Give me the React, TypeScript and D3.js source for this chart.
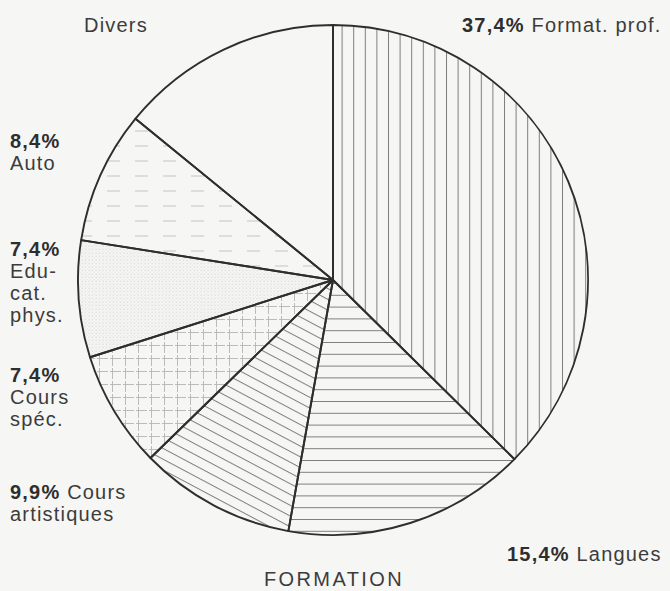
import React from "react";
import * as d3 from "d3";

const categories = ["Format. prof.", "Langues", "Cours artistiques", "Cours spéc.", "Educat. phys.", "Auto", "Divers"];
const values = [37.4, 15.4, 9.9, 7.4, 7.4, 8.4, 14.1];
const percentLabels = ["37,4%", "15,4%", "9,9%", "7,4%", "7,4%", "8,4%", ""];
const nameLines = [
  ["Format. prof."],
  ["Langues"],
  ["Cours", "artistiques"],
  ["Cours", "spéc."],
  ["Edu-", "cat.", "phys."],
  ["Auto"],
  ["Divers"],
];
const title = "FORMATION";

// layout (not data)
const W = 670, H = 591;
const cx = 333, cy = 280, R = 255;
const labelLayout = [
  { x: 462, y: 32, inline: true },
  { x: 507, y: 561, inline: true },
  { x: 10, y: 499, inline: true },
  { x: 10, y: 382, inline: false },
  { x: 10, y: 256, inline: false },
  { x: 10, y: 148, inline: false },
  { x: 84, y: 32, inline: true },
];
const fills = ["url(#pVert)", "url(#pHoriz)", "url(#pDiag)", "url(#pGrid)", "url(#pDots)", "url(#pDash)", "none"];

export default function App() {
  const pie = d3.pie<number>().sort(null).value((d) => d).startAngle(0).endAngle(2 * Math.PI);
  const arcs = pie(values);
  const arc = d3.arc<d3.PieArcDatum<number>>().innerRadius(0).outerRadius(R);
  const font = "'Liberation Sans', Arial, Helvetica, sans-serif";
  const fs = 20;
  const ls = 1.2;
  const lh = 22;
  return (
    <svg width={W} height={H} style={{ position: "absolute", left: 0, top: 0, background: "#f6f6f4" }}>
      <defs>
        <pattern id="pVert" patternUnits="userSpaceOnUse" width={11.6} height={20} x={-3}>
          <line x1={0.5} y1={0} x2={0.5} y2={20} stroke="#7e7e7e" strokeWidth={1} />
        </pattern>
        <pattern id="pHoriz" patternUnits="userSpaceOnUse" width={20} height={11.8} y={3}>
          <line x1={0} y1={0.5} x2={20} y2={0.5} stroke="#7e7e7e" strokeWidth={1} />
        </pattern>
        <pattern id="pDiag" patternUnits="userSpaceOnUse" width={20} height={9.5} patternTransform="rotate(28)">
          <line x1={0} y1={0.5} x2={20} y2={0.5} stroke="#7e7e7e" strokeWidth={1} />
        </pattern>
        <pattern id="pGrid" patternUnits="userSpaceOnUse" width={13} height={13}>
          <line x1={0.5} y1={0} x2={0.5} y2={13} stroke="#b4b4b4" strokeWidth={0.9} strokeDasharray="8 2 3 0" />
          <line x1={0} y1={0.5} x2={13} y2={0.5} stroke="#b4b4b4" strokeWidth={0.9} strokeDasharray="9 2 2 0" />
        </pattern>
        <pattern id="pDots" patternUnits="userSpaceOnUse" width={3.5} height={3.5}>
          <circle cx={1} cy={1} r={0.6} fill="#c4c4c4" />
          <circle cx={2.75} cy={2.75} r={0.45} fill="#d4d4d4" />
        </pattern>
        <pattern id="pDash" patternUnits="userSpaceOnUse" width={28} height={15} x={-2}>
          <line x1={0} y1={1} x2={13} y2={1} stroke="#c4c4c4" strokeWidth={1} />
        </pattern>
      </defs>
      <g transform={`translate(${cx},${cy})`}>
        {arcs.map((a, i) => (
          <path key={categories[i]} d={arc(a) || ""} fill={fills[i]} stroke="none" />
        ))}
        {arcs.map((a, i) => (
          <path key={"o" + categories[i]} d={arc(a) || ""} fill="none" stroke="#2e2e2e" strokeWidth={1.9} strokeLinejoin="round" />
        ))}
      </g>
      <g fontFamily={font} fontSize={fs} letterSpacing={ls} fill="#3c3c3c">
        {labelLayout.map((L, i) => {
          const pct = percentLabels[i];
          const lines = nameLines[i];
          if (L.inline) {
            return (
              <g key={"l" + i}>
                <text x={L.x} y={L.y}>
                  {pct && <tspan fontWeight="bold" fill="#2e2e2e">{pct} </tspan>}
                  <tspan>{lines[0]}</tspan>
                </text>
                {lines.slice(1).map((t, j) => (
                  <text key={j} x={L.x} y={L.y + lh * (j + 1)}>{t}</text>
                ))}
              </g>
            );
          }
          return (
            <g key={"l" + i}>
              <text x={L.x} y={L.y} fontWeight="bold" fill="#2e2e2e">{pct}</text>
              {lines.map((t, j) => (
                <text key={j} x={L.x} y={L.y + lh * (j + 1)}>{t}</text>
              ))}
            </g>
          );
        })}
        <text x={cx + 1} y={586} textAnchor="middle" fontSize={20} letterSpacing={2.4}>{title}</text>
      </g>
    </svg>
  );
}
